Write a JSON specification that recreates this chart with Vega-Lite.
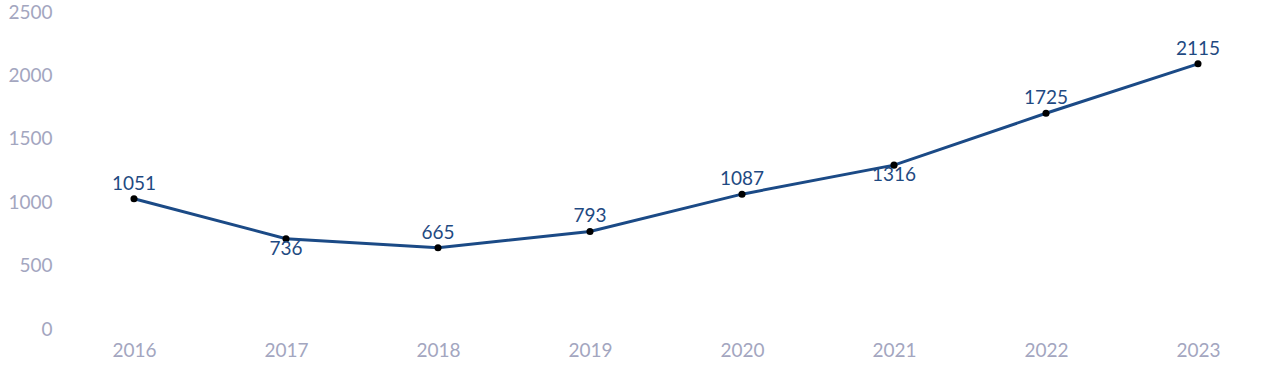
{
  "$schema": "https://vega.github.io/schema/vega-lite/v6.json",
  "autosize": "none",
  "width": 1216,
  "height": 317,
  "padding": {"left": 58, "top": 15, "right": 6, "bottom": 50},
  "background": "white",
  "config": {"view": {"stroke": null}, "font": "Lato"},
  "data": {"values": [
    {"year": "2016", "value": 1051},
    {"year": "2017", "value": 736},
    {"year": "2018", "value": 665},
    {"year": "2019", "value": 793},
    {"year": "2020", "value": 1087},
    {"year": "2021", "value": 1316},
    {"year": "2022", "value": 1725},
    {"year": "2023", "value": 2115}
  ]},
  "encoding": {
    "x": {"field": "year", "type": "ordinal", "scale": {"type": "point", "padding": 0.5},
      "axis": {"title": null, "labelAngle": 0, "domain": false, "ticks": false, "tickSize": 0, "grid": false,
        "labelFont": "Lato", "labelFontSize": 19, "labelColor": "#a3a6bf", "labelPadding": 9}},
    "y": {"field": "value", "type": "quantitative", "scale": {"domain": [0, 2500], "nice": false},
      "axis": {"title": null, "values": [0, 500, 1000, 1500, 2000, 2500], "format": "d", "domain": false, "ticks": false, "tickSize": 0, "grid": false,
        "labelFont": "Lato", "labelFontSize": 19, "labelColor": "#a3a6bf", "labelPadding": 6, "labelOffset": -3}}
  },
  "layer": [
    {"mark": {"type": "line", "color": "#1b4a86", "strokeWidth": 3}},
    {"mark": {"type": "point", "filled": true, "color": "#000000", "size": 50, "opacity": 1}},
    {"transform": [{"filter": "datum.year != '2017' && datum.year != '2021'"}],
     "mark": {"type": "text", "baseline": "alphabetic", "dy": -9, "font": "Lato", "fontSize": 19, "color": "#1f4a82"},
     "encoding": {"text": {"field": "value", "type": "quantitative", "format": "d"}}},
    {"transform": [{"filter": "datum.year == '2017' || datum.year == '2021'"}],
     "mark": {"type": "text", "baseline": "top", "dy": 1, "font": "Lato", "fontSize": 19, "color": "#1f4a82"},
     "encoding": {"text": {"field": "value", "type": "quantitative", "format": "d"}}}
  ]
}
